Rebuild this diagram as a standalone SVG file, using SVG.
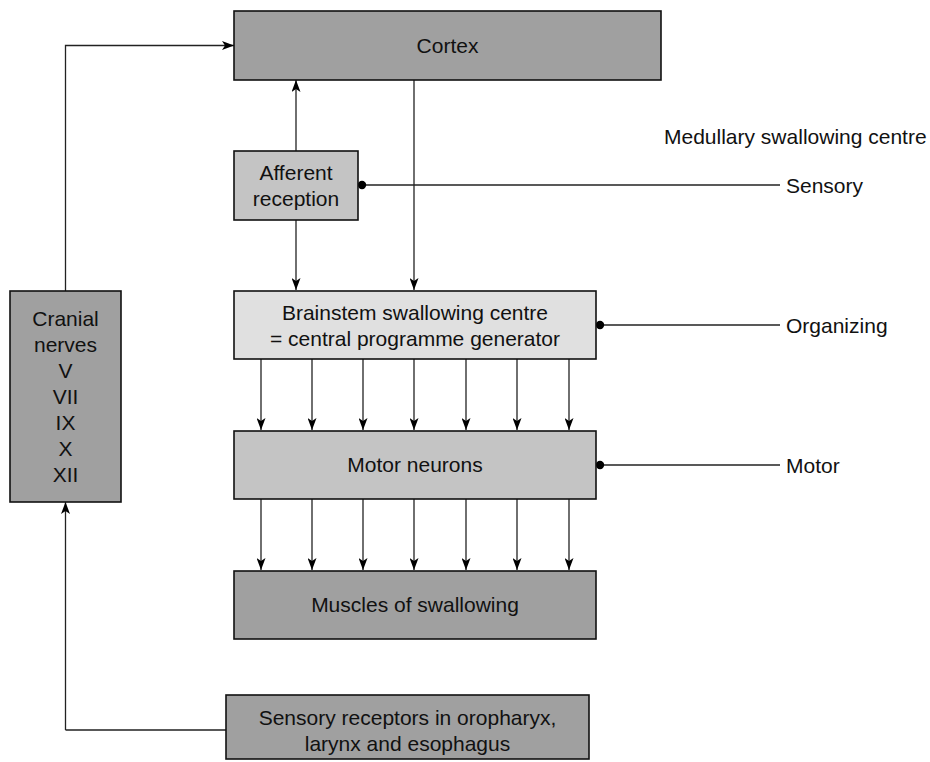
<svg xmlns="http://www.w3.org/2000/svg" width="930" height="762" viewBox="0 0 930 762">
  <defs>
    <marker id="arrow" markerUnits="userSpaceOnUse" markerWidth="13" markerHeight="9" viewBox="0 0 13 9" refX="12" refY="4.5" orient="auto">
      <path d="M0,0 L12,4.5 L0,9 L3,4.5 z" fill="#000"/>
    </marker>
    <marker id="dot" markerUnits="userSpaceOnUse" markerWidth="10" markerHeight="10" viewBox="0 0 10 10" refX="5" refY="5">
      <circle cx="5" cy="5" r="4.2" fill="#000"/>
    </marker>
  </defs>
  <style>
    text { font-family: "Liberation Sans", Arial, Helvetica, sans-serif; font-size: 21px; fill: #111; }
    .c { text-anchor: middle; }
    .box { stroke: #111; stroke-width: 1.6; }
    .dark { fill: #a0a0a0; }
    .mid { fill: #c4c4c4; }
    .light { fill: #e0e0e0; }
    .link { fill: none; stroke: #222; stroke-width: 1.3; }
    .arr { marker-end: url(#arrow); }
    .tap { marker-start: url(#dot); }
  </style>
  <rect width="930" height="762" fill="#fff"/>

  <!-- connectors -->
  <g id="connectors">
    <path class="link arr" d="M65.5,291 V45.5 H234"/>
    <path class="link arr" d="M65.5,730 H226 M65.5,730 V502"/>
    <path class="link arr" d="M296,151 V80"/>
    <path class="link arr" d="M296,220 V290"/>
    <path class="link arr" d="M414,80 V290"/>
    <!-- brainstem to motor neurons -->
    <path class="link arr" d="M261,359 V430"/>
    <path class="link arr" d="M312,359 V430"/>
    <path class="link arr" d="M363,359 V430"/>
    <path class="link arr" d="M414,359 V430"/>
    <path class="link arr" d="M466,359 V430"/>
    <path class="link arr" d="M517,359 V430"/>
    <path class="link arr" d="M569,359 V430"/>
    <!-- motor neurons to muscles -->
    <path class="link arr" d="M261,499 V570"/>
    <path class="link arr" d="M312,499 V570"/>
    <path class="link arr" d="M363,499 V570"/>
    <path class="link arr" d="M414,499 V570"/>
    <path class="link arr" d="M466,499 V570"/>
    <path class="link arr" d="M517,499 V570"/>
    <path class="link arr" d="M569,499 V570"/>
    <!-- level taps -->
    <path class="link tap" d="M362,185 H780"/>
    <path class="link tap" d="M600,325 H780"/>
    <path class="link tap" d="M600,465 H780"/>
  </g>

  <g id="cortex">
    <rect class="box dark" x="234" y="11" width="427" height="69"/>
    <text class="c" x="447.5" y="53">Cortex</text>
  </g>

  <g id="afferent-reception">
    <rect class="box mid" x="234" y="151" width="124" height="69"/>
    <text class="c" x="296" y="180">Afferent</text>
    <text class="c" x="296" y="206">reception</text>
  </g>

  <g id="brainstem-centre">
    <rect class="box light" x="234" y="291" width="362" height="68"/>
    <text class="c" x="415" y="320">Brainstem swallowing centre</text>
    <text class="c" x="415" y="346">= central programme generator</text>
  </g>

  <g id="motor-neurons">
    <rect class="box mid" x="234" y="431" width="362" height="68"/>
    <text class="c" x="415" y="472">Motor neurons</text>
  </g>

  <g id="muscles">
    <rect class="box dark" x="234" y="571" width="362" height="68"/>
    <text class="c" x="415" y="612">Muscles of swallowing</text>
  </g>

  <g id="sensory-receptors">
    <rect class="box dark" x="226" y="695" width="363" height="64"/>
    <text class="c" x="407.5" y="725">Sensory receptors in oropharyx,</text>
    <text class="c" x="407.5" y="751">larynx and esophagus</text>
  </g>

  <g id="cranial-nerves">
    <rect class="box dark" x="10" y="291" width="111" height="211"/>
    <text class="c" x="65.5" y="326">Cranial</text>
    <text class="c" x="65.5" y="352">nerves</text>
    <text class="c" x="65.5" y="378">V</text>
    <text class="c" x="65.5" y="404">VII</text>
    <text class="c" x="65.5" y="430">IX</text>
    <text class="c" x="65.5" y="456">X</text>
    <text class="c" x="65.5" y="482">XII</text>
  </g>

  <g id="levels">
    <text x="664" y="144">Medullary swallowing centre</text>
    <text x="786" y="193">Sensory</text>
    <text x="786" y="333">Organizing</text>
    <text x="786" y="473">Motor</text>
  </g>
</svg>
